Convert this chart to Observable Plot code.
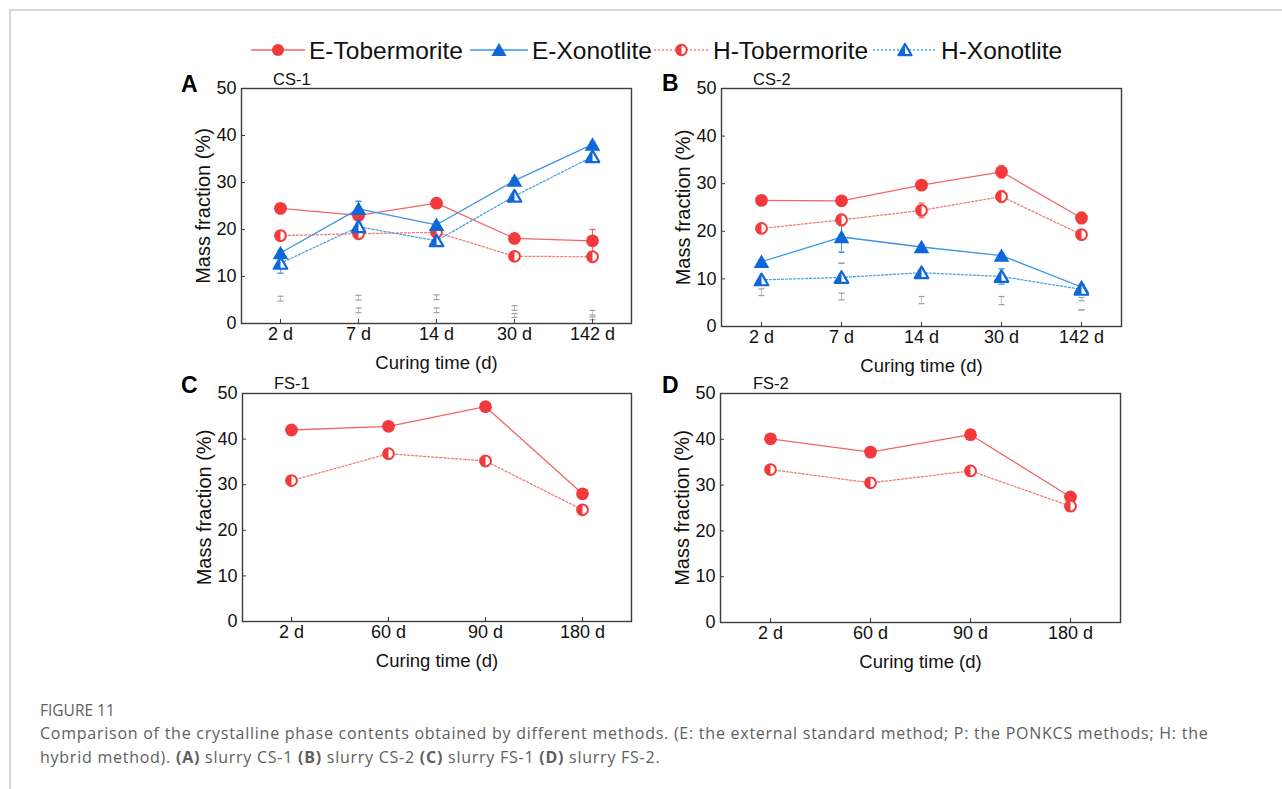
<!DOCTYPE html>
<html>
<head>
<meta charset="utf-8">
<script src="https://cdn.jsdelivr.net/npm/d3@7"></script>
<script src="https://cdn.jsdelivr.net/npm/@observablehq/plot@0.6"></script>
<style>
  body { margin: 0; background: #fff; }
  #root { position: relative; width: 1282px; height: 789px; overflow: hidden; font-family: "Liberation Sans", Arial, sans-serif; background:#fff; }
  .border { position: absolute; left: 9px; top: 9px; width: 1300px; height: 800px; border-left: 2px solid #d6d6d6; border-top: 2px solid #d6d6d6; }
  .panel { position: absolute; }
  #overlay { position: absolute; left: 0; top: 0; }
  .caption { position: absolute; left: 40px; font-family: "Open Sans", "Noto Sans", sans-serif; color: #606060; white-space: nowrap; }
</style>
</head>
<body>
<div id="root">
  <div class="border"></div>
  <svg id="overlay" width="1282" height="140"></svg>
  <div class="caption" id="figtitle" style="top:699px;font-size:15.5px;letter-spacing:0px;">FIGURE 11</div>
  <div class="caption" id="captext" style="top:721px;font-size:16px;line-height:24px;letter-spacing:0.75px;">
    Comparison of the crystalline phase contents obtained by different methods. (E: the external standard method; P: the PONKCS methods; H: the<br>
    hybrid method). <b>(A)</b> slurry CS-1 <b>(B)</b> slurry CS-2 <b>(C)</b> slurry FS-1 <b>(D)</b> slurry FS-2.
  </div>
</div>
<script>
// ---------------- data ----------------
const seriesNames = ["E-Tobermorite", "E-Xonotlite", "H-Tobermorite", "H-Xonotlite"];
const timesCS = ["2 d", "7 d", "14 d", "30 d", "142 d"];
const timesFS = ["2 d", "60 d", "90 d", "180 d"];
const yTicks = [0, 10, 20, 30, 40, 50];

// CS-1
const cs1_ETob = [24.5, 23.0, 25.6, 18.1, 17.6];
const cs1_EXon = [15.0, 24.4, 21.0, 30.4, 38.1];
const cs1_HTob = [18.7, 19.1, 19.4, 14.3, 14.2];
const cs1_HXon = [12.8, 20.6, 17.6, 27.1, 35.5];
const cs1_ETob_err = [0.4, 0.5, 0.5, 0.5, 2.4];
const cs1_EXon_err = [0.6, 1.6, 0.6, 0.6, 0.5];
const cs1_HTob_err = [0.5, 0.5, 0.6, 0.5, 0.8];
const cs1_HXon_err = [2.1, 0.8, 0.5, 0.5, 0.5];
const cs1_P_a = [[4.8, 5.8], [5.0, 6.0], [5.1, 6.1], [2.8, 3.8], [1.8, 2.8]];
const cs1_P_b = [null, [2.3, 3.3], [2.3, 3.3], [1.3, 2.1], [0.8, 1.4]];

// CS-2
const cs2_ETob = [26.5, 26.4, 29.7, 32.5, 22.8];
const cs2_EXon = [13.6, 18.8, 16.7, 14.9, 8.3];
const cs2_HTob = [20.6, 22.4, 24.4, 27.3, 19.3];
const cs2_HXon = [9.8, 10.3, 11.3, 10.5, 7.8];
const cs2_ETob_err = [0.4, 0.4, 0.5, 1.3, 1.2];
const cs2_EXon_err = [0.5, 3.2, 0.5, 0.5, 0.5];
const cs2_HTob_err = [0.5, 1.2, 1.5, 1.2, 0.6];
const cs2_HXon_err = [0.5, 0.5, 0.5, 1.6, 0.5];
const cs2_P_a = [[6.5, 7.9], [5.6, 7.0], [4.8, 6.3], [4.6, 6.3], [5.4, 6.1]];
const cs2_P_b = [null, [13.3, 13.3], null, null, [3.5, 3.5]];

// FS-1
const fs1_ETob = [42.0, 42.8, 47.1, 28.0];
const fs1_HTob = [30.9, 36.8, 35.2, 24.5];
const fs1_ETob_err = [0.6, 0.5, 0.9, 0.5];
const fs1_HTob_err = [0.5, 0.5, 0.5, 0.5];

// FS-2
const fs2_ETob = [40.1, 37.2, 41.0, 27.4];
const fs2_HTob = [33.4, 30.5, 33.1, 25.4];
const fs2_ETob_err = [0.4, 0.4, 0.4, 0.4];
const fs2_HTob_err = [0.4, 0.4, 0.4, 0.4];

// ---------------- styles ----------------
const RED = "#f23a3c", BLUE = "#0f67d8";
const styles = {
  "E-Tobermorite": {line: "#f36566", dash: null, kind: "circle"},
  "E-Xonotlite":   {line: "#3a95e6", dash: null, kind: "tri"},
  "H-Tobermorite": {line: "#f67b7b", dash: "2,2", kind: "halfcircle"},
  "H-Xonotlite":   {line: "#4aa2ea", dash: "2,2", kind: "halftri"}
};

const symTri = {draw(c) { c.moveTo(0, -7.2); c.lineTo(7.8, 6.2); c.lineTo(-7.8, 6.2); c.closePath(); }};
const symTriOut = {draw(c) { c.moveTo(0, -6.2); c.lineTo(6.8, 5.4); c.lineTo(-6.8, 5.4); c.closePath(); }};
const symTriHalf = {draw(c) { c.moveTo(0, -6.2); c.lineTo(-6.8, 5.4); c.lineTo(0, 5.4); c.closePath(); }};
const symHalfCircle = {draw(c) { const r = 5.4; c.moveTo(0, -r); c.arc(0, 0, r, -Math.PI / 2, Math.PI / 2, true); c.closePath(); }};
const symCap = {draw(c) { c.moveTo(-3, 0); c.lineTo(3, 0); }};

function markerMarks(rows, kind) {
  if (kind === "circle") return [Plot.dot(rows, {x: "t", y: "v", r: 6.4, fill: RED})];
  if (kind === "tri") return [Plot.dot(rows, {x: "t", y: "v", symbol: symTri, fill: BLUE})];
  if (kind === "halfcircle") return [
    Plot.dot(rows, {x: "t", y: "v", r: 5.4, fill: "white", stroke: RED, strokeWidth: 2}),
    Plot.dot(rows, {x: "t", y: "v", symbol: symHalfCircle, fill: RED})
  ];
  return [
    Plot.dot(rows, {x: "t", y: "v", symbol: symTriOut, fill: "white", stroke: BLUE, strokeWidth: 2.2, strokeLinejoin: "round"}),
    Plot.dot(rows, {x: "t", y: "v", symbol: symTriHalf, fill: BLUE})
  ];
}

function buildPanel(times, series, grays, frame, svgLeft, svgTop) {
  const [L, T, R, B] = frame;
  const mR = 14, mB = 56;
  const width = R + mR - svgLeft, height = B + mB - svgTop;
  const marks = [];
  for (const g of grays) {
    const rows = times.map((t, i) => ({t, lo: g[i] ? g[i][0] : null, hi: g[i] ? g[i][1] : null})).filter(d => d.lo != null);
    marks.push(Plot.ruleX(rows, {x: "t", y1: "lo", y2: "hi", stroke: "#c4c4c4", strokeWidth: 1}));
    marks.push(Plot.dot(rows, {x: "t", y: "lo", symbol: symCap, stroke: "#a0a0a0", fill: "none", strokeWidth: 1.2}));
    marks.push(Plot.dot(rows, {x: "t", y: "hi", symbol: symCap, stroke: "#a0a0a0", fill: "none", strokeWidth: 1.2}));
  }
  const rowsBy = series.map(s => times.map((t, i) => ({t, v: s.values[i], lo: s.values[i] - s.err[i], hi: s.values[i] + s.err[i]})));
  series.forEach((s, k) => {
    const st = styles[s.name];
    marks.push(Plot.line(rowsBy[k], {x: "t", y: "v", stroke: st.line, strokeWidth: 1.3, strokeDasharray: st.dash}));
  });
  series.forEach((s, k) => {
    const st = styles[s.name];
    marks.push(Plot.ruleX(rowsBy[k], {x: "t", y1: "lo", y2: "hi", stroke: st.line, strokeWidth: 1}));
    marks.push(Plot.dot(rowsBy[k], {x: "t", y: "hi", symbol: symCap, stroke: st.line, fill: "none"}));
    marks.push(Plot.dot(rowsBy[k], {x: "t", y: "lo", symbol: symCap, stroke: st.line, fill: "none"}));
  });
  series.forEach((s, k) => { marks.push(...markerMarks(rowsBy[k], styles[s.name].kind)); });
  marks.push(Plot.frame({stroke: "#3c3c3c", strokeWidth: 1.4}));
  marks.push(Plot.axisX({tickSize: -4, tickPadding: 8, fontSize: 18, label: null, stroke: "#3c3c3c"}));
  marks.push(Plot.axisY({ticks: yTicks, tickSize: -4, tickPadding: 9, fontSize: 18, label: null, stroke: "#3c3c3c"}));
  marks.push(Plot.text(["Curing time (d)"], {frameAnchor: "bottom", lineAnchor: "middle", textAnchor: "middle", dy: 40, fontSize: 18.5, fill: "#111"}));
  marks.push(Plot.text(["Mass fraction (%)"], {frameAnchor: "left", lineAnchor: "middle", textAnchor: "middle", dx: -38, rotate: -90, fontSize: 20, fill: "#111"}));
  const chart = Plot.plot({
    width, height,
    marginLeft: L - svgLeft, marginTop: T - svgTop, marginRight: mR, marginBottom: mB,
    style: {fontFamily: "'Liberation Sans', Arial, sans-serif", color: "#111", background: "transparent", overflow: "visible"},
    x: {type: "point", domain: times, padding: 0.5, label: null},
    y: {domain: [0, 50], label: null},
    marks
  });
  const div = document.createElement("div");
  div.className = "panel";
  div.style.left = svgLeft + "px";
  div.style.top = svgTop + "px";
  div.appendChild(chart);
  document.getElementById("root").appendChild(div);
}

buildPanel(timesCS, [
  {name: "E-Tobermorite", values: cs1_ETob, err: cs1_ETob_err},
  {name: "H-Tobermorite", values: cs1_HTob, err: cs1_HTob_err},
  {name: "E-Xonotlite", values: cs1_EXon, err: cs1_EXon_err},
  {name: "H-Xonotlite", values: cs1_HXon, err: cs1_HXon_err}
], [cs1_P_a, cs1_P_b], [241, 88, 631, 323], 170, 70);

buildPanel(timesCS, [
  {name: "E-Tobermorite", values: cs2_ETob, err: cs2_ETob_err},
  {name: "H-Tobermorite", values: cs2_HTob, err: cs2_HTob_err},
  {name: "E-Xonotlite", values: cs2_EXon, err: cs2_EXon_err},
  {name: "H-Xonotlite", values: cs2_HXon, err: cs2_HXon_err}
], [cs2_P_a, cs2_P_b], [721, 88, 1121, 326], 650, 70);

buildPanel(timesFS, [
  {name: "E-Tobermorite", values: fs1_ETob, err: fs1_ETob_err},
  {name: "H-Tobermorite", values: fs1_HTob, err: fs1_HTob_err}
], [], [242, 393, 631, 621], 171, 375);

buildPanel(timesFS, [
  {name: "E-Tobermorite", values: fs2_ETob, err: fs2_ETob_err},
  {name: "H-Tobermorite", values: fs2_HTob, err: fs2_HTob_err}
], [], [720, 393, 1120, 622], 649, 375);

// ---------------- overlay: legend + panel letters ----------------
const ov = d3.select("#overlay").style("font-family", "'Liberation Sans', Arial, sans-serif");
const legendSwatchX = [251, 470, 654, 873];
const legendTextX = [309, 532, 713, 941];
const legendY = 50;
seriesNames.forEach((name, i) => {
  const st = styles[name];
  const x0 = legendSwatchX[i], x1 = legendTextX[i] - 4;
  const g = ov.append("g");
  g.append("line").attr("x1", x0).attr("x2", x1).attr("y1", legendY).attr("y2", legendY)
    .attr("stroke", st.line).attr("stroke-width", 1.5).attr("stroke-dasharray", st.dash);
  const cx = (x0 + x1) / 2;
  const sg = g.append("g").attr("transform", `translate(${cx},${legendY})`);
  if (st.kind === "circle") sg.append("circle").attr("r", 6).attr("fill", RED);
  else if (st.kind === "tri") sg.append("path").attr("d", "M0,-7L7.6,6L-7.6,6Z").attr("fill", BLUE);
  else if (st.kind === "halfcircle") {
    sg.append("circle").attr("r", 5.2).attr("fill", "white").attr("stroke", RED).attr("stroke-width", 2);
    sg.append("path").attr("d", "M0,-5.2A5.2,5.2 0 0 0 0,5.2Z").attr("fill", RED);
  } else {
    sg.append("path").attr("d", "M0,-6L6.6,5.2L-6.6,5.2Z").attr("fill", "white").attr("stroke", BLUE).attr("stroke-width", 2.2).attr("stroke-linejoin", "round");
    sg.append("path").attr("d", "M0,-6L-6.6,5.2L0,5.2Z").attr("fill", BLUE);
  }
  g.append("text").attr("x", legendTextX[i]).attr("y", legendY + 8.5).attr("font-size", 24.5).attr("fill", "#111").text(name);
});

const panelLetters = ["A", "B", "C", "D"];
const letterX = [181, 662, 181, 662];
const letterY = [92, 91, 393, 393];
const sampleNames = ["CS-1", "CS-2", "FS-1", "FS-2"];
const sampleX = [273, 753, 274, 753];
const sampleY = [85, 85, 389, 389];
const root = document.getElementById("root");
const ov2 = d3.select(root).append("svg").attr("width", 1282).attr("height", 420)
  .style("position", "absolute").style("left", "0px").style("top", "0px")
  .style("font-family", "'Liberation Sans', Arial, sans-serif");
panelLetters.forEach((l, i) => {
  ov2.append("text").attr("x", letterX[i]).attr("y", letterY[i]).attr("font-size", 23).attr("font-weight", "bold").attr("fill", "#000").text(l);
  ov2.append("text").attr("x", sampleX[i]).attr("y", sampleY[i]).attr("font-size", 16.5).attr("fill", "#111").text(sampleNames[i]);
});
</script>
</body>
</html>
